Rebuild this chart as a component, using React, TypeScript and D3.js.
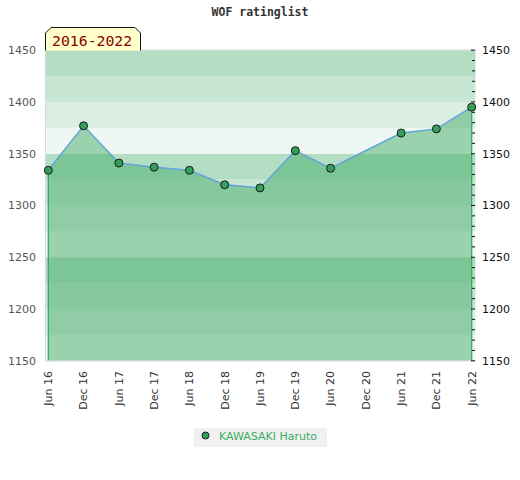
import { useRef, useEffect } from 'react';
import * as d3 from 'd3';

// half-year rating periods shown on the x axis
const periods = [
  'Jun 16', 'Dec 16', 'Jun 17', 'Dec 17', 'Jun 18', 'Dec 18', 'Jun 19',
  'Dec 19', 'Jun 20', 'Dec 20', 'Jun 21', 'Dec 21', 'Jun 22',
];
// rating per period (no entry for Dec 20)
const ratings: (number | null)[] = [
  1334, 1377, 1341, 1337, 1334, 1320, 1317, 1353, 1336, null, 1370, 1374, 1395,
];
const yTicks = [1150, 1200, 1250, 1300, 1350, 1400, 1450];
const minorTicks = d3.range(1150, 1451, 10);
const bandEdges = d3.range(1150, 1450, 25);
const playerName = 'KAWASAKI Haruto';
const badgeText = '2016-2022';
const title = 'WOF ratinglist';

const SANS = 'DejaVu Sans, sans-serif';
const MONO = 'DejaVu Sans Mono, monospace';

export default function App() {
  const svgRef = useRef<SVGSVGElement | null>(null);

  useEffect(() => {
    document.body.style.margin = '0';
    const svg = d3.select(svgRef.current).attr('width', 520).attr('height', 480);
    svg.selectAll('*').remove();

    const plot = { left: 45.5, right: 475.5, top: 50, bottom: 361 };

    const x = d3.scalePoint<string>().domain(periods).range([48.3, 471.7]);
    const y = d3.scaleLinear().domain([1150, 1450]).range([360.8, 50.2]);

    // background bands, shade repeats every 100 points
    const bandColor = (lo: number) => {
      const m = ((lo % 100) + 100) % 100;
      if (m === 25) return '#b3dec4';
      if (m === 0) return '#c8e6d4';
      if (m === 75) return '#dbeee2';
      return '#eef7f1';
    };
    svg.append('g')
      .selectAll('rect')
      .data(bandEdges)
      .join('rect')
      .attr('x', plot.left)
      .attr('width', plot.right - plot.left)
      .attr('y', (d) => y(d + 25))
      .attr('height', (d) => y(d) - y(d + 25))
      .attr('fill', (d) => bandColor(d));

    const pts = periods
      .map((p, i) => ({ p, v: ratings[i] }))
      .filter((d) => d.v !== null) as { p: string; v: number }[];

    const area = d3.area<{ p: string; v: number }>()
      .x((d) => x(d.p) as number)
      .y0(y(1150))
      .y1((d) => y(d.v));

    svg.append('path')
      .datum(pts)
      .attr('d', area)
      .attr('fill', 'rgb(61,169,99)')
      .attr('fill-opacity', 0.475);

    // green edges of the area at both ends
    const ends = [pts[0], pts[pts.length - 1]];
    svg.append('g')
      .selectAll('line')
      .data(ends)
      .join('line')
      .attr('x1', (d) => x(d.p) as number)
      .attr('x2', (d) => x(d.p) as number)
      .attr('y1', (d) => y(d.v))
      .attr('y2', y(1150))
      .attr('stroke', '#2fa85a')
      .attr('stroke-width', 1.2);

    // frame
    svg.append('path')
      .attr('d', `M${plot.left},${plot.top}H${plot.right}M${plot.left},${plot.top}V${plot.bottom}H${plot.right}`)
      .attr('fill', 'none')
      .attr('stroke', '#d8d8d8')
      .attr('stroke-width', 1);

    const line = d3.line<{ p: string; v: number }>()
      .x((d) => x(d.p) as number)
      .y((d) => y(d.v));

    svg.append('path')
      .datum(pts)
      .attr('d', line)
      .attr('fill', 'none')
      .attr('stroke', '#62a4dc')
      .attr('stroke-width', 1.5);

    svg.append('g')
      .selectAll('circle')
      .data(pts)
      .join('circle')
      .attr('cx', (d) => x(d.p) as number)
      .attr('cy', (d) => y(d.v))
      .attr('r', 4)
      .attr('fill', '#33a05a')
      .attr('stroke', '#1a1a1a')
      .attr('stroke-width', 1);

    // right axis ticks
    svg.append('g')
      .selectAll('line')
      .data(minorTicks)
      .join('line')
      .attr('x1', (d) => (d % 50 === 0 ? 471 : 472))
      .attr('x2', 475)
      .attr('y1', (d) => y(d))
      .attr('y2', (d) => y(d))
      .attr('stroke', '#111')
      .attr('stroke-width', 1);

    // y labels, left and right
    svg.append('g')
      .selectAll('text')
      .data(yTicks)
      .join('text')
      .attr('x', 36)
      .attr('y', (d) => y(d))
      .attr('dy', '0.35em')
      .attr('text-anchor', 'end')
      .attr('font-family', SANS)
      .attr('font-size', 11)
      .attr('fill', '#555')
      .text((d) => d);

    svg.append('g')
      .selectAll('text')
      .data(yTicks)
      .join('text')
      .attr('x', 482)
      .attr('y', (d) => y(d))
      .attr('dy', '0.35em')
      .attr('font-family', SANS)
      .attr('font-size', 11)
      .attr('fill', '#111')
      .text((d) => d);

    // x labels, rotated
    svg.append('g')
      .selectAll('text')
      .data(periods)
      .join('text')
      .attr('transform', (d) => `translate(${x(d)},371) rotate(-90)`)
      .attr('dy', '0.35em')
      .attr('text-anchor', 'end')
      .attr('font-family', SANS)
      .attr('font-size', 11)
      .attr('fill', '#333')
      .text((d) => d);

    // title
    svg.append('text')
      .attr('x', 260)
      .attr('y', 16)
      .attr('text-anchor', 'middle')
      .attr('font-family', MONO)
      .attr('font-weight', 'bold')
      .attr('font-size', 11.5)
      .attr('fill', '#333')
      .text(title);

    // period badge
    svg.append('path')
      .attr('d', 'M45.5,50.5V33L51,27.5H135L140.5,33V50.5')
      .attr('fill', '#ffffcc')
      .attr('stroke', '#111')
      .attr('stroke-width', 1);
    svg.append('text')
      .attr('x', 52)
      .attr('y', 45.5)
      .attr('font-family', MONO)
      .attr('font-size', 14.8)
      .attr('fill', '#8b0000')
      .text(badgeText);

    // legend
    const legend = svg.append('g');
    legend.append('rect')
      .attr('x', 194)
      .attr('y', 428)
      .attr('width', 133)
      .attr('height', 19)
      .attr('fill', '#f0f0f0');
    legend.append('circle')
      .attr('cx', 205.5)
      .attr('cy', 435.5)
      .attr('r', 3.5)
      .attr('fill', '#33a05a')
      .attr('stroke', '#1a1a1a');
    legend.append('text')
      .attr('x', 219)
      .attr('y', 440)
      .attr('font-family', SANS)
      .attr('font-size', 11)
      .attr('fill', '#3cae62')
      .text(playerName);
  }, []);

  return <svg ref={svgRef} style={{ display: 'block' }} />;
}
